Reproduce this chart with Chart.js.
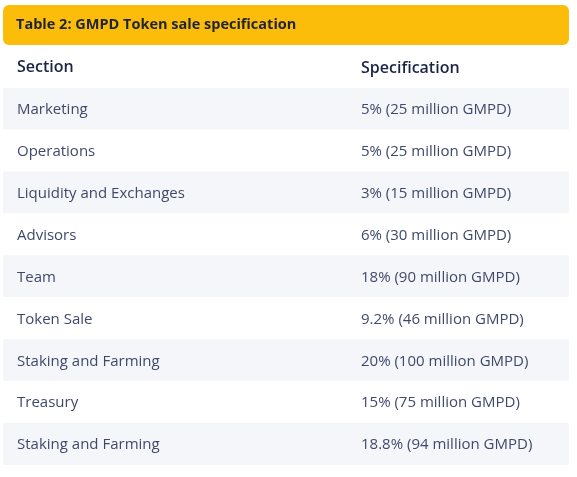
<!DOCTYPE html>
<html>
<head>
<meta charset="utf-8">
<script src="https://cdn.jsdelivr.net/npm/chart.js@4"></script>
<style>
  html,body{margin:0;padding:0;background:#fff;}
  #wrap{width:577px;height:477px;position:relative;}
</style>
</head>
<body>
<div id="wrap"><canvas id="tableChart"></canvas></div>
<script>
const title = 'Table 2: GMPD Token sale specification';
const headers = ['Section', 'Specification'];
const sections = ['Marketing','Operations','Liquidity and Exchanges','Advisors','Team','Token Sale','Staking and Farming','Treasury','Staking and Farming'];
const specs = ['5% (25 million GMPD)','5% (25 million GMPD)','3% (15 million GMPD)','6% (30 million GMPD)','18% (90 million GMPD)','9.2% (46 million GMPD)','20% (100 million GMPD)','15% (75 million GMPD)','18.8% (94 million GMPD)'];

Chart.defaults.font.family = "'Open Sans', sans-serif";

const tableText = {
  id:'tableText',
  afterDatasetsDraw(chart){
    const ctx = chart.ctx, y = chart.scales.y;
    ctx.save();
    // banner
    ctx.fillStyle = '#fcbc0a';
    ctx.beginPath();
    ctx.roundRect(3, 5, 566, 40, 6);
    ctx.fill();
    ctx.fillStyle = '#1f2433';
    ctx.font = "bold 14.5px 'Open Sans', sans-serif";
    ctx.textBaseline = 'middle';
    ctx.fillText(title, 16, 25);
    // header
    ctx.fillStyle = '#1b2346';
    ctx.font = "600 16px 'Open Sans', sans-serif";
    ctx.fillText(headers[0], 17, 67);
    ctx.fillText(headers[1], 361, 68);
    // rows
    ctx.fillStyle = '#3f4a6b';
    ctx.font = "15px 'Open Sans', sans-serif";
    sections.forEach((s,i)=>{
      const py = y.getPixelForValue(i) + 1;
      ctx.fillText(s, 17, py);
      ctx.fillText(specs[i], 361, py);
    });
    ctx.restore();
  }
};

new Chart(document.getElementById('tableChart'), {
  type:'bar',
  data:{
    labels: sections,
    datasets:[{
      data: sections.map(()=>[0,1]),
      backgroundColor: sections.map((_,i)=> i%2===0 ? '#f5f6f9' : '#ffffff'),
      barPercentage:1, categoryPercentage:1, borderSkipped:false
    }]
  },
  options:{
    indexAxis:'y',
    responsive:true, maintainAspectRatio:false, animation:false,
    layout:{padding:{top:88, bottom:12, left:3, right:8}},
    plugins:{legend:{display:false}, tooltip:{enabled:false}},
    scales:{
      x:{type:'linear', min:0, max:1, display:false},
      y:{display:false}
    }
  },
  plugins:[tableText]
});
</script>
</body>
</html>
